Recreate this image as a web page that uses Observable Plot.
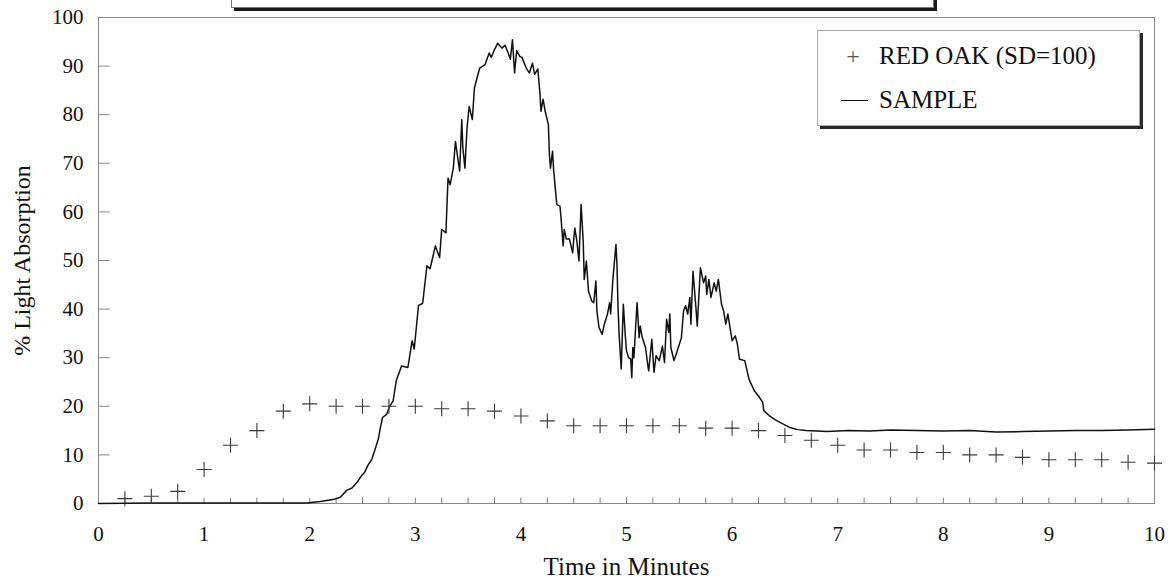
<!DOCTYPE html>
<html>
<head>
<meta charset="utf-8">
<script src="https://cdn.jsdelivr.net/npm/d3@7"></script>
<script src="https://cdn.jsdelivr.net/npm/@observablehq/plot@0.6"></script>
<style>
  body { margin: 0; background: #fff; }
  #wrap { position: relative; width: 1172px; height: 580px; overflow: hidden;
          font-family: "Liberation Serif", "Times New Roman", serif; color: #111; }
  #titlebox { position: absolute; left: 231px; top: -40px; width: 701px; height: 46px;
              background: #fff; border: 1px solid #777; box-shadow: 3px 3px 0 #1a1a1a; }
  #legend { position: absolute; left: 817px; top: 30px; width: 321px; height: 94px;
            background: #fff; border: 1px solid #aaa; box-shadow: 3px 3px 0 #2a2a2a; }
  .lrow { position: absolute; left: 0; width: 100%; height: 30px; font-size: 25px; line-height: 30px; white-space: nowrap; }
  .ltext { position: absolute; left: 61px; top: 0; }
  .lplus { position: absolute; left: 25px; top: 0; width: 20px; text-align: center; color: #555; font-size: 24px; }
  .lline { position: absolute; left: 23px; top: 15px; width: 27px; height: 0; border-top: 1.5px solid #111; }
</style>
</head>
<body>
<div id="wrap">
  <div id="chart"></div>
  <div id="titlebox"></div>
  <div id="legend"></div>
</div>
<script>
// ---- data ----
const redOakTime = [0.25, 0.5, 0.75, 1.0, 1.25, 1.5, 1.75, 2.0, 2.25, 2.5, 2.75, 3.0, 3.25, 3.5, 3.75, 4.0,
  4.25, 4.5, 4.75, 5.0, 5.25, 5.5, 5.75, 6.0, 6.25, 6.5, 6.75, 7.0, 7.25, 7.5, 7.75, 8.0,
  8.25, 8.5, 8.75, 9.0, 9.25, 9.5, 9.75, 10.0];
const redOakValue = [1, 1.5, 2.5, 7, 12, 15, 19, 20.5, 20, 20, 20, 20, 19.5, 19.5, 19, 18,
  17, 16, 16, 16, 16, 16, 15.5, 15.5, 15, 14, 13, 12, 11, 11, 10.5, 10.5,
  10, 10, 9.5, 9, 9, 9, 8.5, 8.3];

const sampleTime = [0, 0.5, 1.0, 1.5, 1.97, 2.10, 2.22, 2.29, 2.35, 2.40, 2.45, 2.49, 2.52, 2.55, 2.59,
  2.62, 2.65, 2.67, 2.69, 2.73, 2.76, 2.79, 2.82, 2.87, 2.93, 2.97, 2.99, 3.03, 3.07, 3.11,
  3.14, 3.19, 3.23, 3.25, 3.29, 3.31, 3.33, 3.36, 3.38, 3.42, 3.44, 3.45, 3.47, 3.49, 3.51,
  3.54, 3.56, 3.58, 3.61, 3.66, 3.70, 3.72, 3.75, 3.78, 3.82, 3.85, 3.88, 3.90, 3.92, 3.94,
  3.96, 3.99, 4.01, 4.05, 4.08, 4.11, 4.13, 4.16, 4.18, 4.19, 4.21, 4.23, 4.26, 4.27, 4.28,
  4.30, 4.31, 4.34, 4.37, 4.38, 4.40, 4.41, 4.43, 4.46, 4.49, 4.51, 4.53, 4.55, 4.57, 4.59,
  4.60, 4.62, 4.64, 4.67, 4.69, 4.71, 4.72, 4.74, 4.77, 4.79, 4.82, 4.84, 4.85, 4.87, 4.90,
  4.91, 4.92, 4.93, 4.95, 4.97, 4.99, 5.00, 5.02, 5.04, 5.05, 5.06, 5.07, 5.10, 5.12, 5.13,
  5.15, 5.18, 5.20, 5.21, 5.24, 5.26, 5.28, 5.31, 5.34, 5.36, 5.38, 5.40, 5.41, 5.42, 5.45,
  5.48, 5.52, 5.54, 5.56, 5.58, 5.60, 5.61, 5.63, 5.66, 5.67, 5.70, 5.73, 5.75, 5.76, 5.78,
  5.80, 5.83, 5.85, 5.87, 5.90, 5.92, 5.94, 5.96, 5.98, 6.00, 6.03, 6.05, 6.07, 6.12, 6.16,
  6.21, 6.26, 6.29, 6.30, 6.35, 6.41, 6.48, 6.54, 6.62, 6.70, 6.9, 7.1, 7.3, 7.5, 7.75,
  8.0, 8.25, 8.5, 8.75, 9.0, 9.25, 9.5, 9.75, 10.0];
const sampleValue = [0, 0.1, 0.1, 0.1, 0.1, 0.4, 0.8, 1.3, 2.7, 3.2, 4.4, 5.7, 6.4, 7.8, 9.2,
  11.2, 13.3, 15.7, 17.7, 18.4, 20.1, 21.1, 25.3, 28.3, 28.0, 33.5, 31.8, 40.7, 41.2, 48.9,
  48.3, 53, 50.6, 56.4, 55.7, 67, 65.6, 69, 74.5, 68.4, 79, 73.3, 69, 77.3, 81.7,
  79, 85.5, 87.2, 89.6, 90.3, 92.7, 91.8, 93.4, 94.7, 93.7, 94.3, 92.7, 91.4, 95.4, 88.6,
  93.2, 92, 91.8, 89.6, 88.6, 90.6, 88.3, 89.4, 84.5, 80.7, 83.2, 80.7, 78, 71.8, 69,
  72.5, 68.6, 61.5, 61.2, 58.8, 53, 56.4, 54.4, 54.4, 51.6, 56.7, 54, 49.9, 61.5, 54,
  46.1, 49.9, 43.7, 41.7, 41.3, 45.8, 39.6, 36.2, 34.8, 36.9, 39, 41.3, 39, 45.8, 53.3,
  49, 40.3, 34.8, 27.7, 41, 34.1, 31.4, 30, 29.7, 25.9, 32.1, 30, 41.3, 34.1, 36.5,
  34.1, 32.1, 28.7, 27.3, 33.8, 27, 30.4, 29.4, 32.4, 29, 37.9, 35.2, 39, 32.1, 29.4,
  31.4, 34.1, 39.6, 40.7, 39, 42.4, 36.9, 47.8, 39.6, 36.5, 48.5, 45.4, 46.8, 43, 46.1,
  42.4, 45.4, 43.7, 46.1, 41, 39.6, 36.9, 39, 36.2, 33.5, 34.5, 32.8, 29.7, 29.4, 25.6,
  23.2, 21.8, 20.8, 19.1, 18.1, 17.2, 16.4, 15.7, 15.2, 15.0, 14.8, 15.0, 14.9, 15.1, 15.0,
  14.9, 15.0, 14.7, 14.8, 14.9, 15.0, 15.0, 15.1, 15.3];

const xTicks = [0, 1, 2, 3, 4, 5, 6, 7, 8, 9, 10];
const yTicks = [0, 10, 20, 30, 40, 50, 60, 70, 80, 90, 100];
const xMinorTicks = [0.25, 0.5, 0.75, 1, 1.25, 1.5, 1.75, 2, 2.25, 2.5, 2.75, 3, 3.25, 3.5, 3.75, 4,
  4.25, 4.5, 4.75, 5, 5.25, 5.5, 5.75, 6, 6.25, 6.5, 6.75, 7, 7.25, 7.5, 7.75, 8,
  8.25, 8.5, 8.75, 9, 9.25, 9.5, 9.75];

const seriesNames = ["RED OAK (SD=100)", "SAMPLE"];
const yLabel = "% Light Absorption";
const xLabel = "Time in Minutes";

// ---- build ----
const redOak = redOakTime.map((t, i) => ({t, v: redOakValue[i]}));
const sample = sampleTime.map((t, i) => ({t, v: sampleValue[i]}));

const thinPlus = {
  draw(context, size) {
    const h = Math.sqrt(size / Math.PI);
    context.moveTo(-h, 0); context.lineTo(h, 0);
    context.moveTo(0, -h); context.lineTo(0, h);
  }
};

const chart = Plot.plot({
  width: 1172,
  height: 580,
  marginLeft: 98,
  marginRight: 18,
  marginTop: 17,
  marginBottom: 77,
  x: {domain: [0, 10]},
  y: {domain: [0, 100]},
  style: {fontFamily: "'Liberation Serif', 'Times New Roman', serif", fontSize: "21px", color: "#111", background: "transparent"},
  marks: [
    Plot.frame({stroke: "#888", strokeWidth: 1}),
    Plot.ruleY(yTicks, {y: d => d, x1: 0, x2: 0.11, stroke: "#888"}),
    Plot.ruleX(xMinorTicks, {x: d => d, y1: 0, y2: 1.1, stroke: "#777"}),
    Plot.axisX({ticks: xTicks, tickSize: 0, tickPadding: 23, label: null, tickFormat: d => String(d)}),
    Plot.axisY({ticks: yTicks, tickSize: 0, tickPadding: 15, label: null, tickFormat: d => String(d)}),
    Plot.line(sample, {x: "t", y: "v", stroke: "#111", strokeWidth: 1.5, curve: "linear"}),
    Plot.dot(redOak, {x: "t", y: "v", symbol: thinPlus, r: 7.5, stroke: "#3a3a3a", strokeWidth: 1.1, fill: "none"}),
    Plot.text([yLabel], {frameAnchor: "left", textAnchor: "middle", lineAnchor: "middle", rotate: -90, dx: -76, fontSize: 24, fill: "#111"}),
    Plot.text([xLabel], {frameAnchor: "bottom", textAnchor: "middle", lineAnchor: "middle", dy: 63, fontSize: 25, fill: "#111"})
  ]
});
document.getElementById("chart").appendChild(chart);

// legend
const legend = document.getElementById("legend");
legend.innerHTML = `
  <div class="lrow" style="top:10px;"><span class="lplus">+</span><span class="ltext">${seriesNames[0]}</span></div>
  <div class="lrow" style="top:54px;"><span class="lline"></span><span class="ltext">${seriesNames[1]}</span></div>`;
</script>
</body>
</html>
